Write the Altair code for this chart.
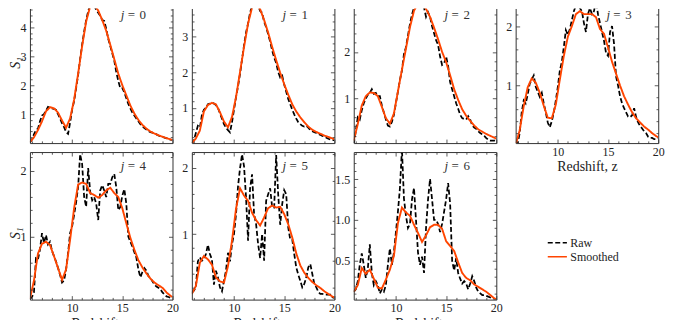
import altair as alt
import pandas as pd

# ---------------- data ----------------
z_raw = [5.8, 6.0, 6.2, 6.4, 6.6, 6.8, 7.0, 7.2, 7.4, 7.6,
         7.8, 8.0, 8.2, 8.4, 8.6, 8.8, 9.0, 9.2, 9.4, 9.6,
         9.8, 10.0, 10.2, 10.4, 10.6, 10.8, 11.0, 11.2, 11.4, 11.6,
         11.8, 12.0, 12.2, 12.4, 12.6, 12.8, 13.0, 13.2, 13.4, 13.6,
         13.8, 14.0, 14.2, 14.4, 14.6, 14.8, 15.0, 15.2, 15.4, 15.6,
         15.8, 16.0, 16.2, 16.4, 16.6, 16.8, 17.0, 17.2, 17.4, 17.6,
         17.8, 18.0, 18.2, 18.4, 18.6, 18.8, 19.0, 19.2, 19.4, 19.6,
         19.8, 20.0]
z_smooth = [5.8, 6.2, 6.6, 7.0, 7.4, 7.8, 8.2, 8.6, 9.0, 9.4,
            9.8, 10.2, 10.6, 11.0, 11.4, 11.8, 12.2, 12.6, 13.0, 13.4,
            13.8, 14.2, 14.6, 15.0, 15.4, 15.8, 16.2, 16.6, 17.0, 17.4,
            17.8, 18.2, 18.6, 19.0, 19.4, 19.8, 20.0]

raw_j0 = [0.02, 0.12, 0.3, 0.45, 0.5, 0.75, 0.95, 1.0, 1.12, 1.25,
          1.22, 1.2, 1.18, 1.15, 1.0, 0.85, 0.68, 0.55, 0.38, 0.32,
          0.7, 1.15, 1.45, 1.9, 2.35, 2.9, 3.4, 3.85, 4.25, 4.55,
          4.8, 4.92, 4.75, 4.6, 4.5, 4.4, 4.25, 4.22, 3.95, 3.6,
          3.35, 3.1, 2.85, 2.45, 2.15, 1.9, 1.9, 1.75, 1.55, 1.35,
          1.2, 1.05, 0.95, 0.85, 0.75, 0.65, 0.58, 0.52, 0.47, 0.42,
          0.38, 0.36, 0.33, 0.3, 0.26, 0.24, 0.22, 0.19, 0.17, 0.14,
          0.12, 0.11]
smooth_j0 = [0.03, 0.2, 0.45, 0.75, 1.1, 1.24, 1.2, 1.05, 0.78, 0.53,
             0.85, 1.5, 2.4, 3.35, 4.2, 4.72, 4.78, 4.58, 4.25, 3.88,
             3.4, 2.9, 2.4, 2.0, 1.65, 1.3, 1.02, 0.8, 0.63, 0.5,
             0.4, 0.33, 0.27, 0.22, 0.17, 0.13, 0.11]

raw_j1 = [0.0, 0.1, 0.3, 0.5, 0.45, 0.8, 0.95, 1.0, 1.1, 1.12,
          1.15, 1.12, 1.08, 1.0, 0.85, 0.7, 0.55, 0.45, 0.38, 0.32,
          0.6, 0.95, 1.3, 1.6, 1.95, 2.35, 2.75, 3.1, 3.35, 3.65,
          3.85, 4.0, 3.95, 3.85, 3.7, 3.65, 3.4, 3.25, 3.05, 2.85,
          2.6, 2.4, 2.25, 2.0, 1.85, 1.9, 1.65, 1.45, 1.25, 1.1,
          0.95, 0.82, 0.7, 0.6, 0.55, 0.5, 0.48, 0.5, 0.45, 0.38,
          0.35, 0.32, 0.3, 0.27, 0.25, 0.22, 0.2, 0.17, 0.14, 0.12,
          0.1, 0.1]
smooth_j1 = [0.02, 0.15, 0.37, 0.9, 1.08, 1.14, 1.1, 0.88, 0.62, 0.46,
             0.75, 1.3, 2.0, 2.7, 3.35, 3.8, 3.92, 3.75, 3.45, 3.1,
             2.7, 2.33, 1.98, 1.66, 1.37, 1.1, 0.9, 0.74, 0.6, 0.48,
             0.39, 0.33, 0.28, 0.23, 0.19, 0.15, 0.13]

raw_j2 = [0.02, 0.3, 0.6, 0.55, 0.75, 0.9, 1.0, 1.08, 1.12, 1.2,
          1.1, 1.12, 1.05, 1.05, 0.85, 0.7, 0.55, 0.42, 0.4, 0.5,
          0.65, 0.9, 1.15, 1.4, 1.6, 1.95, 2.1, 2.35, 2.6, 2.8,
          2.95, 3.05, 3.08, 3.1, 3.05, 2.95, 2.75, 2.85, 2.75, 2.55,
          2.4, 2.25, 2.15, 1.9, 1.72, 1.75, 1.9, 1.7, 1.35, 1.2,
          1.05, 0.9, 0.78, 0.65, 0.58, 0.56, 0.55, 0.62, 0.55, 0.42,
          0.38, 0.35, 0.3, 0.26, 0.23, 0.2, 0.15, 0.12, 0.1, 0.1,
          0.1, 0.12]
smooth_j2 = [0.1, 0.45, 0.85, 1.05, 1.13, 1.12, 1.05, 0.82, 0.58, 0.46,
             0.68, 1.15, 1.62, 2.07, 2.53, 2.88, 3.04, 3.04, 2.92, 2.75,
             2.52, 2.27, 2.0, 1.78, 1.5, 1.2, 0.97, 0.77, 0.63, 0.52,
             0.42, 0.34, 0.29, 0.24, 0.2, 0.16, 0.14]

raw_j3 = [0.0, 0.02, 0.2, 0.55, 0.75, 0.7, 0.85, 1.03, 1.1, 1.17,
          0.98, 0.9, 0.81, 0.88, 0.7, 0.55, 0.38, 0.3, 0.4, 0.55,
          0.75, 0.98, 1.25, 1.4, 1.65, 1.93, 1.85, 1.95, 2.1, 2.25,
          2.35, 2.4, 2.3, 2.25, 2.05, 1.9, 2.2, 2.3, 2.2, 2.25,
          2.43, 2.2, 2.05, 1.9, 1.75, 1.55, 1.5, 1.9, 2.0, 1.7,
          1.15, 1.0, 0.82, 0.7, 0.62, 0.55, 0.48, 0.47, 0.5, 0.62,
          0.47, 0.38, 0.32, 0.28, 0.23, 0.2, 0.14, 0.12, 0.12, 0.1,
          0.1, 0.12]
smooth_j3 = [0.0, 0.25, 0.65, 0.97, 1.12, 1.05, 0.88, 0.66, 0.46, 0.45,
             0.68, 1.1, 1.5, 1.82, 2.0, 2.2, 2.25, 2.2, 2.2, 2.2,
             2.15, 1.95, 1.87, 1.64, 1.4, 1.2, 1.0, 0.82, 0.68, 0.55,
             0.45, 0.38, 0.31, 0.26, 0.2, 0.15, 0.13]

raw_j4 = [0.05, 0.08, 0.15, 0.67, 0.65, 0.8, 1.05, 0.9, 1.02, 0.88,
          0.92, 0.78, 0.7, 0.62, 0.52, 0.42, 0.3, 0.33, 0.5, 0.75,
          1.05, 1.15, 1.33, 1.52, 1.75, 2.25, 2.1, 1.6, 1.45, 2.04,
          1.68, 1.55, 1.6, 1.5, 1.25, 1.7, 1.78, 1.7, 1.6, 1.8,
          1.8, 1.9, 1.95, 1.75, 1.4, 1.45, 1.62, 1.72, 1.5, 1.0,
          0.92, 0.85, 0.76, 0.68, 0.5, 0.38, 0.46, 0.52, 0.48, 0.4,
          0.37, 0.32, 0.27, 0.24, 0.22, 0.2, 0.15, 0.12, 0.09, 0.08,
          0.07, 0.07]
smooth_j4 = [0.05, 0.33, 0.74, 0.89, 0.92, 0.87, 0.7, 0.52, 0.34, 0.5,
             0.95, 1.43, 1.79, 1.82, 1.8, 1.66, 1.63, 1.59, 1.63, 1.7,
             1.74, 1.66, 1.6, 1.43, 1.2, 0.98, 0.8, 0.64, 0.53, 0.44,
             0.36, 0.3, 0.26, 0.22, 0.15, 0.1, 0.08]

raw_j5 = [0.12, 0.15, 0.2, 0.59, 0.65, 0.6, 0.62, 0.7, 0.84, 0.7,
          0.62, 0.24, 0.45, 0.35, 0.2, 0.14, 0.3, 0.45, 0.72, 0.59,
          0.85, 1.0, 1.3, 1.72, 1.99, 2.2, 2.02, 1.55, 0.9, 1.69,
          1.9, 1.3, 1.15, 0.85, 0.64, 1.0, 0.6, 1.5, 1.6, 1.69,
          1.4, 1.4, 2.19, 1.6, 1.14, 1.45, 1.66, 1.6, 1.1, 0.92,
          0.92, 0.7, 0.5, 0.39, 0.3, 0.2, 0.25, 0.35, 0.5, 0.55,
          0.4, 0.25, 0.2, 0.13, 0.1, 0.1, 0.09, 0.09, 0.09, 0.09,
          0.05, 0.04]
smooth_j5 = [0.1, 0.22, 0.57, 0.67, 0.62, 0.54, 0.35, 0.29, 0.27, 0.52,
             0.9, 1.38, 1.69, 1.58, 1.5, 1.32, 1.21, 1.13, 1.25, 1.39,
             1.43, 1.4, 1.41, 1.3, 1.15, 0.95, 0.71, 0.53, 0.42, 0.34,
             0.28, 0.23, 0.19, 0.14, 0.1, 0.06, 0.05]

raw_j6 = [0.12, 0.15, 0.25, 0.45, 0.59, 0.45, 0.29, 0.4, 0.7, 0.35,
          0.2, 0.25, 0.2, 0.1, 0.15, 0.12, 0.2, 0.45, 0.65, 0.45,
          0.6, 0.85, 1.1, 1.39, 1.87, 1.26, 1.05, 0.9, 0.95, 1.25,
          1.39, 1.0, 0.6, 0.45, 0.55, 0.35, 0.9, 1.25, 1.5, 1.25,
          1.0, 1.0, 0.95, 0.85, 0.95, 1.1, 1.25, 1.45, 1.2, 0.5,
          0.38, 0.53, 0.35, 0.28, 0.22, 0.25, 0.22, 0.15, 0.22, 0.31,
          0.25, 0.17, 0.12, 0.1, 0.08, 0.08, 0.07, 0.06, 0.05, 0.04,
          0.03, 0.03]
smooth_j6 = [0.12, 0.2, 0.41, 0.34, 0.39, 0.28, 0.17, 0.16, 0.27, 0.39,
             0.56, 0.96, 1.15, 1.09, 1.05, 0.94, 0.84, 0.73, 0.81, 0.91,
             0.94, 0.94, 0.89, 0.74, 0.68, 0.62, 0.48, 0.35, 0.29, 0.26,
             0.21, 0.18, 0.15, 0.12, 0.08, 0.04, 0.03]

series_names = ["Raw", "Smoothed"]
x_major = [10, 15, 20]
x_minor = [6, 7, 8, 9, 11, 12, 13, 14, 16, 17, 18, 19]

# ---------------- style ----------------
FONT = "Liberation Serif"
INK = "#222222"
AXC = "#333333"
W = 143
XDOM = [5.8, 20.0]
COLORS = ["#000000", "#ff4500"]
DASHES = [[5, 2.5], [1, 0]]
LEG_X = 522
LEG_Y = 228


def minor_ticks(step, every, hi):
    out = []
    k = 1
    while k * step < hi:
        if k % every:
            out.append(round(k * step, 2))
        k += 1
    return out


def axis(orient, values, tick=0.0, labels=False, domain=False, offset=0, title=None, **extra):
    kw = dict(orient=orient, values=values, grid=False, labels=labels, domain=domain,
              ticks=tick > 0, tickSize=tick, tickColor=AXC, tickWidth=0.8,
              domainColor=AXC, domainWidth=1.0, offset=offset, title=title,
              labelFont=FONT, labelFontSize=12, labelColor=INK,
              titleFont=FONT, titleFontSize=14, titleColor=INK, titleFontWeight="normal",
              labelFlush=False, labelOverlap=False, zindex=1)
    kw.update(extra)
    return alt.Axis(**kw)


def legend():
    return alt.Legend(title=None, orient="none", legendX=LEG_X, legendY=LEG_Y,
                      labelFont=FONT, labelFontSize=12, labelColor=INK,
                      symbolType="M-1.6,0H1.6", symbolSize=144, symbolStrokeWidth=1.7,
                      rowPadding=1, labelOffset=6, padding=0)


def panel(jlabel, raw, smooth, ydom, ymaj, mstep, mevery, fmt, h,
          xlab, ylab, top_border, title_y, text_y):
    df = pd.concat([
        pd.DataFrame({"z": z_raw, "S": raw, "series": "Raw"}),
        pd.DataFrame({"z": z_smooth, "S": smooth, "series": "Smoothed"}),
    ], ignore_index=True)
    ymin = minor_ticks(mstep, mevery, ydom[1])
    xs = alt.Scale(domain=XDOM, nice=False, zero=False)
    ys = alt.Scale(domain=ydom, nice=False, zero=False)
    color = alt.Color("series:N", scale=alt.Scale(domain=series_names, range=COLORS), legend=legend())
    dash = alt.StrokeDash("series:N", scale=alt.Scale(domain=series_names, range=DASHES), legend=legend())
    base = alt.Chart(df)

    if xlab:
        xA = axis("bottom", x_major, labels=True, domain=True, title="Redshift, z",
                  labelPadding=3, titlePadding=3)
    else:
        xA = axis("bottom", x_major, labels=False, domain=True)
    yA_kw = dict(labelPadding=4, format=fmt)
    if ylab:
        yA_kw.update(titleX=-14.5, titleY=title_y, titleAlign="center", titleBaseline="middle",
                     titleFontStyle="italic", titleFontSize=14)
    yA = axis("left", ymaj, labels=True, domain=True, title=("S₁" if ylab else None), **yA_kw)

    xB = axis("top", x_major, tick=4, offset=-h)
    yB = axis("right", ymaj, tick=4, offset=-W)
    xC = axis("top", x_minor, tick=2.2, offset=-h)
    yC = axis("right", ymin, tick=2.2, offset=-W)
    xD = axis("bottom", x_major, tick=4, offset=-h, domain=True) if top_border else None
    yD = axis("left", ymaj, tick=4, offset=-W, domain=True)
    xE = axis("bottom", x_minor, tick=2.2, offset=-h) if top_border else None
    yE = axis("left", ymin, tick=2.2, offset=-W)

    raw_layer = base.transform_filter(alt.datum.series == "Raw").mark_line(
        clip=True, strokeWidth=1.75).encode(
        x=alt.X("z:Q", scale=xs, axis=xA), y=alt.Y("S:Q", scale=ys, axis=yA),
        color=color, strokeDash=dash)
    smooth_layer = base.transform_filter(alt.datum.series == "Smoothed").mark_line(
        clip=True, strokeWidth=1.9).encode(
        x=alt.X("z:Q", scale=xs, axis=xB), y=alt.Y("S:Q", scale=ys, axis=yB),
        color=color, strokeDash=dash)

    def ghost(xa, ya):
        return base.mark_line(clip=True, opacity=0).encode(
            x=alt.X("z:Q", scale=xs, axis=xa), y=alt.Y("S:Q", scale=ys, axis=ya),
            detail="series:N")

    one = alt.Chart(pd.DataFrame({"a": [0]}))
    tj = one.mark_text(text="j", font=FONT, fontSize=13, fontStyle="italic", align="left",
                       baseline="alphabetic", color="#333333").encode(
        x=alt.value(91), y=alt.value(text_y))
    teq = one.mark_text(text="=", font=FONT, fontSize=13, align="left",
                        baseline="alphabetic", color="#333333").encode(
        x=alt.value(98), y=alt.value(text_y))
    tnum = one.mark_text(text=jlabel, font=FONT, fontSize=13, align="left",
                         baseline="alphabetic", color="#333333").encode(
        x=alt.value(110), y=alt.value(text_y))

    return alt.layer(raw_layer, smooth_layer, ghost(xC, yC), ghost(xD, yD), ghost(xE, yE),
                     tj, teq, tnum).resolve_axis(x="independent", y="independent").properties(
        width=W, height=h)


HT, HB = 135, 148
p0 = panel("0", raw_j0, smooth_j0, [0.0, 4.65], [1, 2, 3, 4], 0.2, 5, "d", HT, False, True, False, 54, 11)
p1 = panel("1", raw_j1, smooth_j1, [0.02, 3.77], [1, 2, 3], 0.2, 5, "d", HT, False, False, False, 54, 11)
p2 = panel("2", raw_j2, smooth_j2, [0.045, 2.93], [1, 2], 0.2, 5, "d", HT, False, False, False, 54, 11)
p3 = panel("3", raw_j3, smooth_j3, [0.034, 2.295], [1, 2], 0.2, 5, "d", HT, True, False, False, 54, 11)
p4 = panel("4", raw_j4, smooth_j4, [0.041, 2.283], [1, 2], 0.2, 5, "d", HB, True, True, True, 81, 18)
p5 = panel("5", raw_j5, smooth_j5, [0.015, 2.234], [1, 2], 0.2, 5, "d", HB, True, False, True, 81, 18)
p6 = panel("6", raw_j6, smooth_j6, [0.024, 1.83], [0.5, 1.0, 1.5], 0.1, 5, ".1f", HB, True, False, True, 81, 18)

chart = alt.concat(p0, p1, p2, p3, p4, p5, p6, columns=4,
                   spacing={"row": 9, "column": 19.4}, bounds="flush").properties(
    padding={"left": 0, "top": 0, "right": 0, "bottom": 0}
).configure_view(stroke=None)

chart.save("out.html", embed_options={"renderer": "svg", "actions": False})
